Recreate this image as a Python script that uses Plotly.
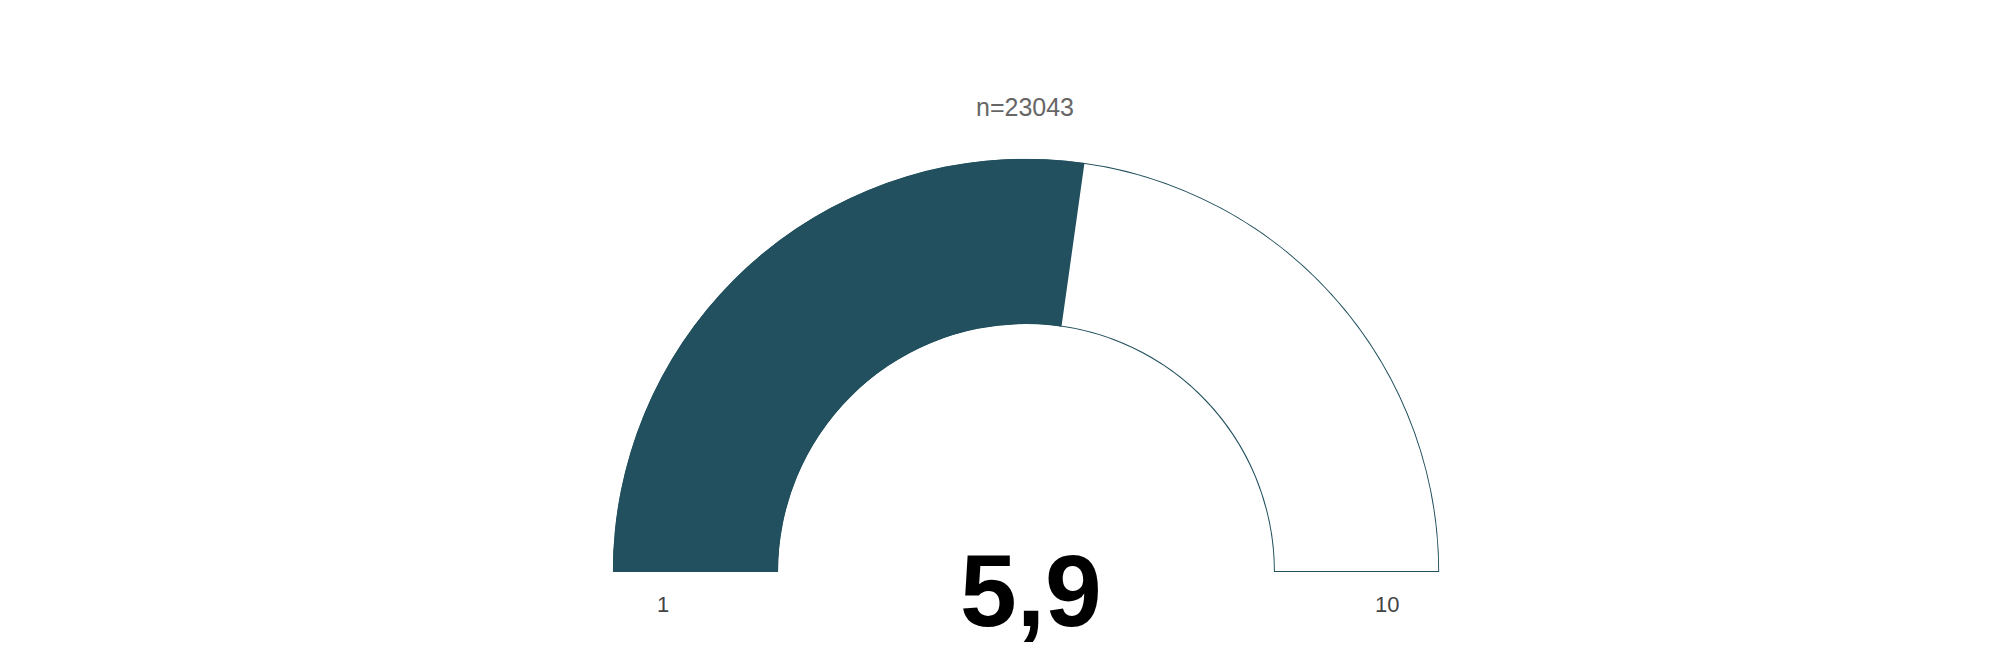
import plotly.graph_objects as go

# gauge data
value = 5.9
scale_min = 1
scale_max = 10
tick_labels = ["1", "10"]
n_label = "n=23043"

teal = "#22505E"

# map the value on the half circle (0 deg = left end, 180 deg = right end)
span = 180
filled = (value - scale_min) / (scale_max - scale_min) * span

fig = go.Figure()
fig.add_trace(go.Barpolar(
    r=[1, 1],
    theta=[filled / 2, filled + (span - filled) / 2],
    width=[filled, span - filled],
    marker=dict(color=[teal, "white"], line=dict(color=teal, width=2)),
    hoverinfo="skip",
    showlegend=False,
))

fig.update_layout(
    width=2000, height=658,
    margin=dict(l=0, r=0, t=0, b=0),
    paper_bgcolor="white",
    plot_bgcolor="white",
    polar=dict(
        domain=dict(x=[0.302, 0.716], y=[0.143, 0.771]),
        sector=[0, 180],
        hole=0.6,
        bgcolor="white",
        radialaxis=dict(visible=False, range=[0, 1]),
        angularaxis=dict(visible=False, direction="clockwise", rotation=180,
                         showgrid=False, showline=False),
    ),
)

# value in the middle, decimal comma
fig.add_annotation(
    x=0.5115, y=0.114, xref="paper", yref="paper",
    text=f"{value:.1f}".replace(".", ","), showarrow=False,
    font=dict(family="Liberation Sans", size=102, color="black", weight="bold"),
    xanchor="center", yanchor="middle",
)

# min / max labels under the band
for lab, xp in zip(tick_labels, [0.3275, 0.6895]):
    fig.add_annotation(
        x=xp, y=0.094, xref="paper", yref="paper", text=lab, showarrow=False,
        font=dict(family="Liberation Sans", size=22, color="#444444"),
        xanchor="center", yanchor="middle",
    )

fig.add_annotation(
    x=0.5085, y=0.849, xref="paper", yref="paper", text=n_label, showarrow=False,
    font=dict(family="Liberation Sans", size=25, color="#666666"),
    xanchor="center", yanchor="middle",
)

fig.write_html("out.html")
